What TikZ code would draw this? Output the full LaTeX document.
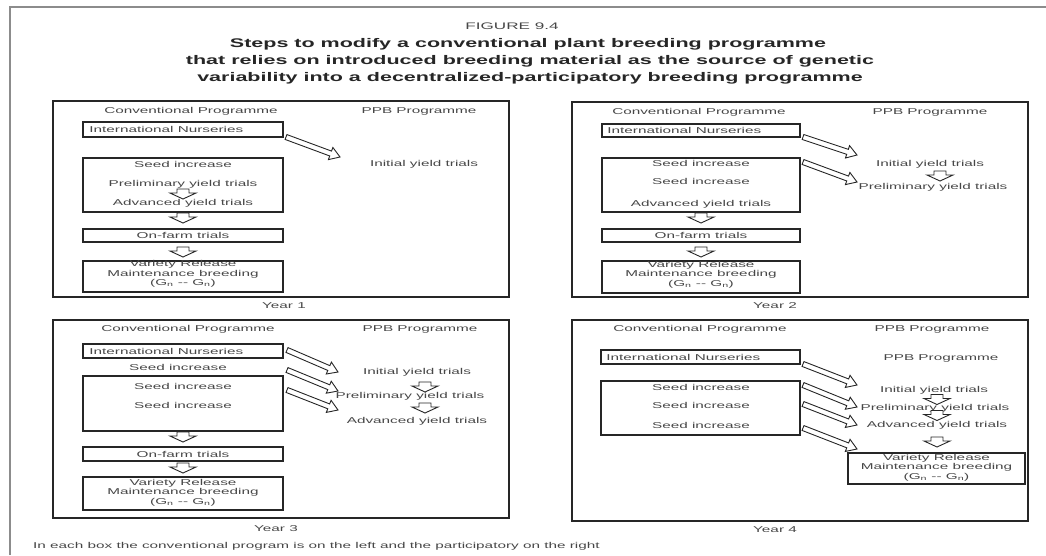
\documentclass[tikz,border=0pt]{standalone}
\usepackage{fontspec}
\setmainfont{Liberation Sans}
\newfontfamily\bodyfont[FakeStretch=1.8]{Liberation Sans}
\newfontfamily\titlefont[FakeStretch=1.72]{Liberation Sans}
\usetikzlibrary{calc}
\newcommand\hollowarrow[2]{%
  \path ($(#2)!10pt!(#1)$) coordinate (ha-h);
  \draw[harrow] ($(#1)!2.6pt!90:(#2)$) -- ($(ha-h)!2.6pt!90:(#2)$) -- ($(ha-h)!6.5pt!90:(#2)$) -- (#2) -- ($(ha-h)!6.5pt!-90:(#2)$) -- ($(ha-h)!2.6pt!-90:(#2)$) -- ($(#1)!2.6pt!-90:(#2)$) -- cycle;}
\tikzset{
  panel/.style={draw=black!85, line width=1.7pt, inner sep=0pt},
  bx/.style={draw=black!85, line width=1.6pt, inner sep=0pt},
  txt/.style={text=black!72, font=\bodyfont\fontsize{8.5}{9.3}\selectfont, inner sep=0pt, align=center},
  ttl/.style={text=black!85, font=\titlefont\bfseries\fontsize{12.5}{14}\selectfont, inner sep=0pt},
  harrow/.style={draw=black!85, line width=0.9pt, fill=white, line join=miter},
  dnarr/.pic={\draw[harrow] (-6,-5) -- (-6,-1) -- (-13,-1) -- (0,5) -- (13,-1) -- (6,-1) -- (6,-5) -- cycle;},
}
\begin{document}
\begin{tikzpicture}[x=1pt,y=-1pt]
\useasboundingbox (0,0) rectangle (1046,555);
% outer frame
\draw[black!45, line width=2.5pt] (10,555) -- (10,7) -- (1046,7);
% title
\node[txt, font=\bodyfont\fontsize{9.5}{10}\selectfont] (fig) at (512,26) {FIGURE 9.4};
\node[ttl] (t1) at (528,44) {Steps to modify a conventional plant breeding programme};
\node[ttl] (t2) at (530,61) {that relies on introduced breeding material as the source of genetic};
\node[ttl] (t3) at (530,78) {variability into a decentralized-participatory breeding programme};

% ---------------- Year 1 ----------------
\node[panel, minimum width=456pt, minimum height=196pt] (p1) at (281,199) {};
\node[txt] (h1c) at (191,111) {Conventional Programme};
\node[txt] (h1p) at (419,111) {PPB Programme};
\node[bx, minimum width=200pt, minimum height=15pt] (in1) at (183,129.5) {};
\node[txt, anchor=west] (in1t) at ([xshift=7pt]in1.west) {International Nurseries};
\node[bx, minimum width=200pt, minimum height=54pt] (seed1) at (183,185) {};
\node[txt] (s1a) at (183,164) {Seed increase};
\node[txt] (s1b) at (183,184) {Preliminary yield trials};
\node[txt] (s1c) at (183,203) {Advanced yield trials};
\node[bx, minimum width=200pt, minimum height=13pt] (farm1) at (183,235.5) {};
\node[txt] at (farm1) {On-farm trials};
\node[bx, minimum width=200pt, minimum height=31pt] (var1) at (183,276.5) {};
\node[txt] (v1) at (183,274) {Variety Release\\Maintenance breeding\\(G\textsubscript{n} -- G\textsubscript{n})};
\node[txt] (r1a) at (424,164) {Initial yield trials};
\coordinate (a1s) at (286,137); \coordinate (a1e) at (340,157);
\hollowarrow{a1s}{a1e}
\pic at (183,194) {dnarr};
\pic at (183,218) {dnarr};
\pic at (183,252) {dnarr};
\node[txt] (y1) at (284,306) {Year 1};

% ---------------- Year 2 ----------------
\node[panel, minimum width=456pt, minimum height=195pt] (p2) at (800,199.5) {};
\node[txt] (h2c) at (699,112) {Conventional Programme};
\node[txt] (h2p) at (930,112) {PPB Programme};
\node[bx, minimum width=198pt, minimum height=13pt] (in2) at (701,130.5) {};
\node[txt, anchor=west] (in2t) at ([xshift=6pt]in2.west) {International Nurseries};
\node[bx, minimum width=198pt, minimum height=54pt] (seed2) at (701,185) {};
\node[txt] (s2a) at (701,163) {Seed increase};
\node[txt] (s2b) at (701,181) {Seed increase};
\node[txt] (s2c) at (701,204) {Advanced yield trials};
\node[bx, minimum width=198pt, minimum height=13pt] (farm2) at (701,235.5) {};
\node[txt] at (farm2) {On-farm trials};
\node[bx, minimum width=198pt, minimum height=32pt] (var2) at (701,277) {};
\node[txt] (v2) at (701,274.5) {Variety Release\\Maintenance breeding\\(G\textsubscript{n} -- G\textsubscript{n})};
\node[txt] (r2a) at (930,164) {Initial yield trials};
\node[txt] (r2b) at (933,187) {Preliminary yield trials};
\coordinate (b1s) at (803,137); \coordinate (b1e) at (857,155);
\coordinate (b2s) at (803,162); \coordinate (b2e) at (857,182);
\hollowarrow{b1s}{b1e}
\hollowarrow{b2s}{b2e}
\pic at (940,176) {dnarr};
\pic at (701,218) {dnarr};
\pic at (701,252) {dnarr};
\node[txt] (y2) at (775,306) {Year 2};

% ---------------- Year 3 ----------------
\node[panel, minimum width=456pt, minimum height=198pt] (p3) at (281,419) {};
\node[txt] (h3c) at (188,329) {Conventional Programme};
\node[txt] (h3p) at (420,329) {PPB Programme};
\node[bx, minimum width=200pt, minimum height=14pt] (in3) at (183,351) {};
\node[txt, anchor=west] (in3t) at ([xshift=7pt]in3.west) {International Nurseries};
\node[txt] (s3o) at (178,367) {Seed increase};
\node[bx, minimum width=200pt, minimum height=55pt] (seed3) at (183,403.5) {};
\node[txt] (s3a) at (183,386) {Seed increase};
\node[txt] (s3b) at (183,405) {Seed increase};
\node[bx, minimum width=200pt, minimum height=14pt] (farm3) at (183,454) {};
\node[txt] at (farm3) {On-farm trials};
\node[bx, minimum width=200pt, minimum height=33pt] (var3) at (183,493.5) {};
\node[txt] (v3) at (183,492.5) {Variety Release\\Maintenance breeding\\(G\textsubscript{n} -- G\textsubscript{n})};
\node[txt] (r3a) at (417,372) {Initial yield trials};
\node[txt] (r3b) at (410,396) {Preliminary yield trials};
\node[txt] (r3c) at (417,421) {Advanced yield trials};
\coordinate (c1s) at (287,350); \coordinate (c1e) at (338,372);
\coordinate (c2s) at (287,370); \coordinate (c2e) at (338,391);
\coordinate (c3s) at (287,390); \coordinate (c3e) at (338,410);
\hollowarrow{c1s}{c1e}
\hollowarrow{c2s}{c2e}
\hollowarrow{c3s}{c3e}
\pic at (425,387) {dnarr};
\pic at (425,408) {dnarr};
\pic at (183,437) {dnarr};
\pic at (183,468) {dnarr};
\node[txt] (y3) at (276,529) {Year 3};

% ---------------- Year 4 ----------------
\node[panel, minimum width=456pt, minimum height=201pt] (p4) at (800,420.5) {};
\node[txt] (h4c) at (700,329) {Conventional Programme};
\node[txt] (h4p) at (932,329) {PPB Programme};
\node[bx, minimum width=199pt, minimum height=14pt] (in4) at (700.5,357) {};
\node[txt, anchor=west] (in4t) at ([xshift=6pt]in4.west) {International Nurseries};
\node[txt] (r4o) at (941,358) {PPB Programme};
\node[bx, minimum width=199pt, minimum height=54pt] (seed4) at (700.5,408) {};
\node[txt] (s4a) at (701,387) {Seed increase};
\node[txt] (s4b) at (701,405) {Seed increase};
\node[txt] (s4c) at (701,425) {Seed increase};
\node[txt] (r4a) at (934,390) {Initial yield trials};
\node[txt] (r4b) at (935,408) {Preliminary yield trials};
\node[txt] (r4c) at (937,425) {Advanced yield trials};
\node[bx, minimum width=177pt, minimum height=31pt] (var4) at (936.5,468.5) {};
\node[txt] (v4) at (936.5,467.5) {Variety Release\\Maintenance breeding\\(G\textsubscript{n} -- G\textsubscript{n})};
\coordinate (d1s) at (803,364); \coordinate (d1e) at (857,385);
\coordinate (d2s) at (803,385); \coordinate (d2e) at (857,407);
\coordinate (d3s) at (803,404); \coordinate (d3e) at (857,425);
\coordinate (d4s) at (803,428); \coordinate (d4e) at (857,449);
\hollowarrow{d1s}{d1e}
\hollowarrow{d2s}{d2e}
\hollowarrow{d3s}{d3e}
\hollowarrow{d4s}{d4e}
\pic at (937,399.5) {dnarr};
\pic at (937,415.5) {dnarr};
\pic at (937,442) {dnarr};
\node[txt] (y4) at (775,530) {Year 4};

% footnote
\node[txt, anchor=west] (foot) at (33,546) {In each box the conventional program is on the left and the participatory on the right};
\end{tikzpicture}
\end{document}
